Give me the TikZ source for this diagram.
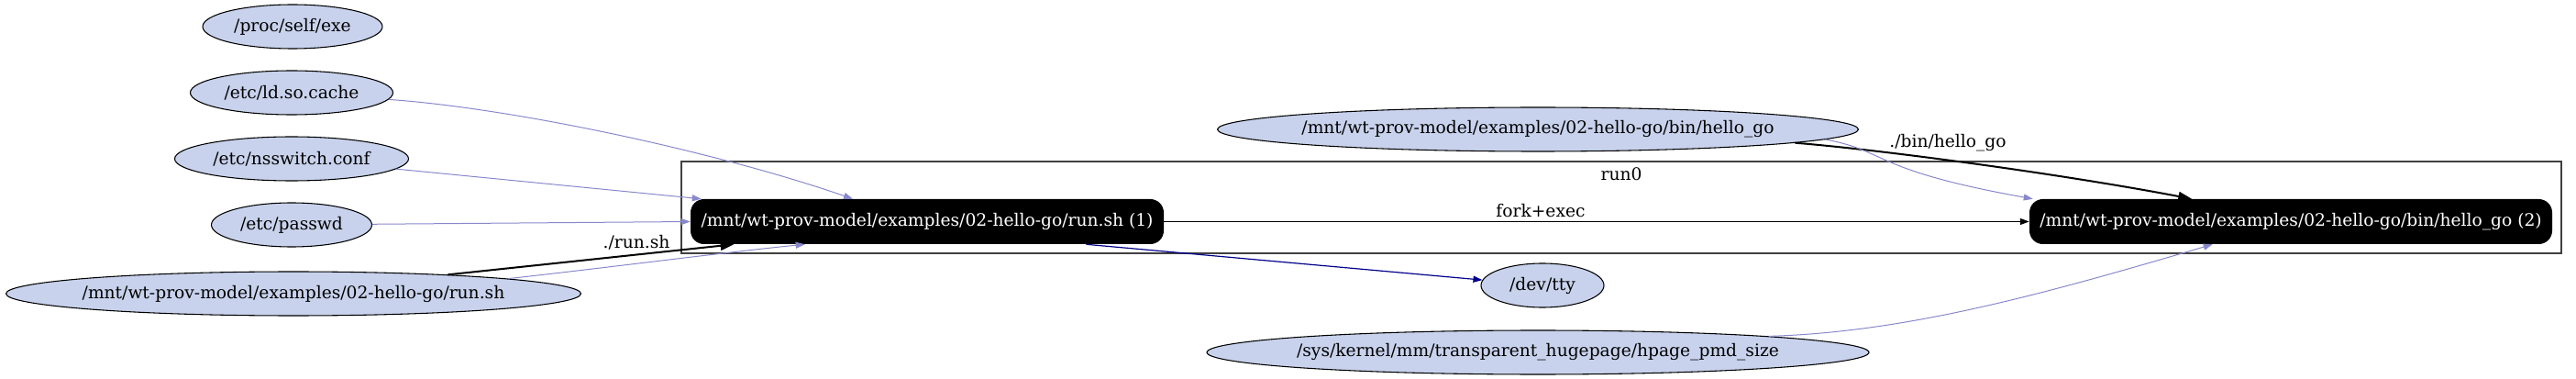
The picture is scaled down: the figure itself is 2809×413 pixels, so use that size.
\documentclass[tikz,border=0pt]{standalone}
\usepackage{fontspec}
\setmainfont{DejaVu Serif}
\usetikzlibrary{shapes.geometric,arrows.meta}
\definecolor{filefill}{RGB}{200,210,236}
\definecolor{readcol}{RGB}{136,136,204}
\definecolor{writecol}{RGB}{0,0,139}
\begin{document}
\begin{tikzpicture}[x=0.75pt, y=-0.75pt,
        font=\fontsize{14pt}{17pt}\selectfont,
        >={Triangle[length=7.5pt,width=5.25pt]},
        file/.style={ellipse, draw, line width=0.8pt, fill=filefill, inner xsep=-100pt, inner ysep=0pt, minimum height=36pt},
        proc/.style={rectangle, rounded corners=11pt, fill=black, text=white, inner sep=0pt, minimum height=36.75pt},
        read/.style={->, readcol, line width=0.75pt},
        exec/.style={-{Triangle[length=11pt,width=7.5pt]}, line width=1.5pt}]
        \useasboundingbox (0, 0) rectangle (2809, 413);
        % cluster
        \node (c) [draw, black!75, line width=0.9pt, minimum width=1537.5pt, minimum height=75pt, inner sep=0pt] at (1768, 226) {};
        \node (c0) at (1768, 190) {run0};
        % files
        \node (0) [file, minimum width=147pt] at (319, 29) {/proc/self/exe};
        \node (1) [file, minimum width=165.75pt] at (318, 101) {/etc/ld.so.cache};
        \node (2) [file, minimum width=191.25pt] at (318, 173) {/etc/nsswitch.conf};
        \node (3) [file, minimum width=131.25pt] at (318, 245) {/etc/passwd};
        \node (4) [file, minimum width=470.25pt] at (320, 320) {/mnt/wt-prov-model/examples/02-hello-go/run.sh};
        \node (5) [file, minimum width=524.25pt] at (1677, 141) {/mnt/wt-prov-model/examples/02-hello-go/bin/hello\_go};
        \node (7) [file, minimum width=100.5pt] at (1682, 311) {/dev/tty};
        \node (8) [file, minimum width=541.5pt] at (1677, 384) {/sys/kernel/mm/transparent\_hugepage/hpage\_pmd\_size};
        % processes
        \node (6) [proc, minimum width=387pt] at (1011, 241.5) {/mnt/wt-prov-model/examples/02-hello-go/run.sh (1)};
        \node (9) [proc, minimum width=427.5pt] at (2498, 241.5) {/mnt/wt-prov-model/examples/02-hello-go/bin/hello\_go (2)};
        % labels
        \node (10) at (694, 264) {./run.sh};
        \node (11) at (1680, 230) {fork+exec};
        \node (12) at (2124, 156) {./bin/hello\_go};
        % edges
        \draw [read] (1.-4) .. controls (560, 118) and (780, 165) .. ([xshift=-60.75pt]6.north);
        \draw [read] (2) to ([xshift=9pt]6.north west);
        \draw [read] (3) to (6.west);
        \draw [exec] (4.7) to ([xshift=-158pt]6.south);
        \draw [read] (4.4) .. controls (660, 292) and (790, 275) .. ([xshift=-100pt]6.south);
        \draw [->, writecol, line width=0.9pt] ([xshift=130pt]6.south) to (7);
        \draw [->, line width=0.9pt] (6) to (9);
        \draw [exec] (5.-3.5) .. controls (2050, 163) and (2250, 190) .. ([xshift=-81pt]9.north);
        \draw [read] (5.-2.8) .. controls (2060, 165) and (2040, 185) .. ([xshift=3pt]9.north west);
        \draw [read] (8.4.7) .. controls (2080, 362) and (2230, 320) .. ([xshift=-64pt]9.south);
    \end{tikzpicture}
\end{document}
